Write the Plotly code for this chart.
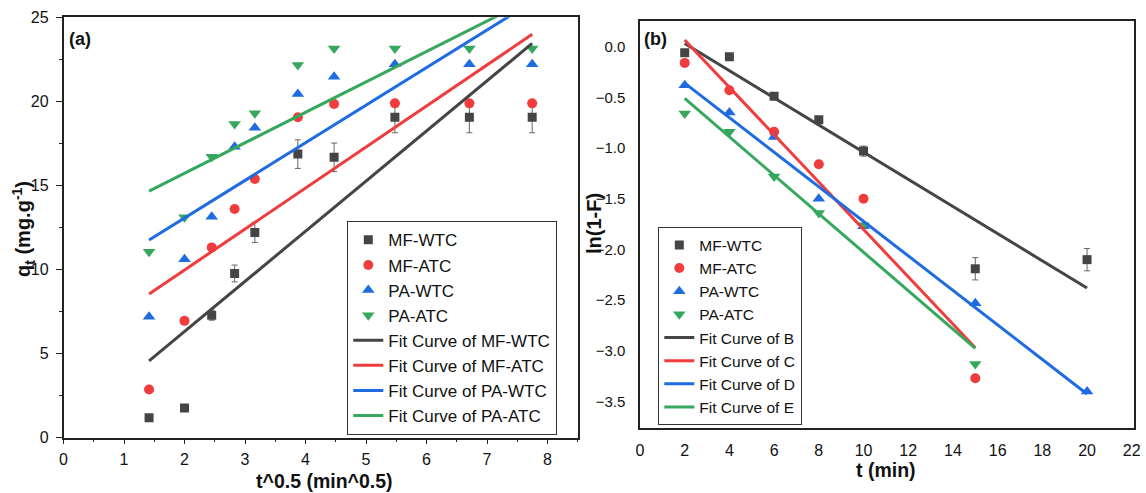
import numpy as np
import plotly.graph_objects as go

# ---------------- data: panel (a) ----------------
t_a = [2, 4, 6, 8, 10, 15, 20, 30, 45, 60]          # min
mf_wtc_a = [1.17, 1.76, 7.28, 9.76, 12.2, 16.86, 16.67, 19.05, 19.05, 19.05]
mf_wtc_a_err = [0.0, 0.0, 0.3, 0.5, 0.6, 0.85, 0.85, 0.92, 0.92, 0.92]
mf_atc_a = [2.86, 6.94, 11.31, 13.59, 15.38, 19.05, 19.84, 19.88, 19.88, 19.88]
pa_wtc_a = [7.18, 10.61, 13.13, 17.3, 18.43, 20.43, 21.46, 22.2, 22.2, 22.2]
pa_atc_a = [11.05, 13.1, 16.7, 18.65, 19.29, 22.16, 23.15, 23.15, 23.15, 23.15]
# fit parameters (slope, intercept) in t^0.5
fit_slope_a = [2.983, 2.441, 2.238, 1.811]
fit_icpt_a = [0.34, 5.08, 8.58, 12.10]

# ---------------- data: panel (b) ----------------
t_b = [2, 4, 6, 8, 10, 15, 20]
mf_wtc_b = [-0.06, -0.10, -0.49, -0.72, -1.03, -2.19, -2.10]
mf_wtc_b_err = [0.03, 0.0, 0.0, 0.0, 0.05, 0.11, 0.11]
mf_atc_b = [-0.16, -0.43, -0.84, -1.16, -1.50, -3.27]
pa_wtc_b = [-0.38, -0.65, -0.89, -1.50, -1.77, -2.53, -3.40]
pa_atc_b = [-0.66, -0.84, -1.28, -1.64, -1.76, -3.13]
fit_slope_b = [-0.1339, -0.2335, -0.1703, -0.1896]
fit_icpt_b = [0.298, 0.533, -0.019, -0.131]
fit_tend_b = [20, 15, 20, 15]

names = ["MF-WTC", "MF-ATC", "PA-WTC", "PA-ATC"]
fit_names_a = ["Fit Curve of MF-WTC", "Fit Curve of MF-ATC", "Fit Curve of PA-WTC", "Fit Curve of PA-ATC"]
fit_names_b = ["Fit Curve of B", "Fit Curve of C", "Fit Curve of D", "Fit Curve of E"]

colors = ["#454545", "#F03C3C", "#1F6BE0", "#36A85E"]
symbols = ["square", "circle", "triangle-up", "triangle-down"]
sizes = [9, 10, 11, 11]
FONT = "Liberation Sans, Arial, sans-serif"
W, H = 1146, 493

fig = go.Figure()

xa = np.sqrt(np.array(t_a, dtype=float))
series_a = [mf_wtc_a, mf_atc_a, pa_wtc_a, pa_atc_a]
for i, ys in enumerate(series_a):
    kw = {}
    if i == 0:
        kw["error_y"] = dict(type="data", array=mf_wtc_a_err, visible=True,
                             color="#666666", thickness=1, width=3)
    fig.add_trace(go.Scatter(x=xa, y=ys, mode="markers", name=names[i],
                             marker=dict(color=colors[i], symbol=symbols[i], size=sizes[i]),
                             xaxis="x", yaxis="y", legend="legend", **kw))
for i in range(4):
    xs = np.array([xa[0], xa[-1]])
    fig.add_trace(go.Scatter(x=xs, y=fit_slope_a[i] * xs + fit_icpt_a[i], mode="lines",
                             name=fit_names_a[i], line=dict(color=colors[i], width=3),
                             xaxis="x", yaxis="y", legend="legend"))

series_b = [mf_wtc_b, mf_atc_b, pa_wtc_b, pa_atc_b]
for i, ys in enumerate(series_b):
    kw = {}
    if i == 0:
        kw["error_y"] = dict(type="data", array=mf_wtc_b_err, visible=True,
                             color="#666666", thickness=1, width=3)
    fig.add_trace(go.Scatter(x=t_b[:len(ys)], y=ys, mode="markers", name=names[i],
                             marker=dict(color=colors[i], symbol=symbols[i], size=sizes[i]),
                             xaxis="x2", yaxis="y2", legend="legend2", **kw))
for i in range(4):
    xs = np.array([t_b[0], fit_tend_b[i]], dtype=float)
    fig.add_trace(go.Scatter(x=xs, y=fit_slope_b[i] * xs + fit_icpt_b[i], mode="lines",
                             name=fit_names_b[i], line=dict(color=colors[i], width=3),
                             xaxis="x2", yaxis="y2", legend="legend2"))

axline = dict(showline=True, linecolor="#222222", linewidth=1.5, mirror=True,
              showgrid=False, zeroline=False, automargin=False)

fig.update_layout(
    width=W, height=H, margin=dict(l=0, r=0, t=0, b=0, pad=0, autoexpand=False),
    paper_bgcolor="white", plot_bgcolor="white",
    font=dict(family=FONT, color="#111111"),
    xaxis=dict(domain=[63.5 / W, 577.8 / W], range=[0, 8.5], dtick=1, tick0=0,
               ticks="outside", ticklen=5, tickwidth=1.3, tickcolor="#222222",
               minor=dict(dtick=0.5, ticks="outside", ticklen=3, tickcolor="#222222"),
               tickfont=dict(size=16, family=FONT), ticklabelstandoff=2, **axline),
    yaxis=dict(domain=[1 - 437.5 / H, 1 - 17.3 / H], range=[0, 25], dtick=5, tick0=0,
               ticks="outside", ticklen=6, tickwidth=1.3, tickcolor="#222222",
               minor=dict(dtick=2.5, ticks="outside", ticklen=3, tickcolor="#222222"),
               tickfont=dict(size=16, family=FONT), ticklabelstandoff=4, **axline),
    xaxis2=dict(domain=[640 / W, 1134 / W], range=[0, 22.1], dtick=2, tick0=0,
                ticks="", tickfont=dict(size=16, family=FONT), ticklabelstandoff=7,
                anchor="y2", **axline),
    yaxis2=dict(domain=[1 - 428 / H, 1 - 21.3 / H], range=[-3.76, 0.25], dtick=0.5, tick0=0,
                ticks="", tickformat=".1f", tickfont=dict(size=15, family=FONT),
                ticklabelstandoff=10, anchor="x2", **axline),
    legend=dict(x=347 / W, y=1 - 221 / H, xanchor="left", yanchor="top",
                bgcolor="white", bordercolor="#333333", borderwidth=1.3,
                font=dict(size=17, family=FONT), tracegroupgap=0),
    legend2=dict(x=658 / W, y=1 - 227 / H, xanchor="left", yanchor="top",
                 bgcolor="white", bordercolor="#333333", borderwidth=1.3,
                 font=dict(size=15.5, family=FONT), tracegroupgap=0),
    showlegend=True,
)

ann = [
    dict(text="<b>q<sub>t</sub> (mg.g<sup>-1</sup>)</b>", x=23 / W, y=1 - 229 / H, textangle=-90,
         font=dict(size=20)),
    dict(text="<b>t^0.5 (min^0.5)</b>", x=324 / W, y=1 - 481 / H, font=dict(size=19.5)),
    dict(text="<b>ln(1-F)</b>", x=594 / W, y=1 - 224 / H, textangle=-90, font=dict(size=20)),
    dict(text="<b>t (min)</b>", x=886 / W, y=1 - 470 / H, font=dict(size=19.5)),
    dict(text="<b>(a)</b>", x=67 / W, y=1 - 39 / H, xanchor="left", font=dict(size=18)),
    dict(text="<b>(b)</b>", x=642 / W, y=1 - 38.5 / H, xanchor="left", font=dict(size=18)),
]
for a in ann:
    a.update(xref="paper", yref="paper", showarrow=False)
    a.setdefault("xanchor", "center")
    a["yanchor"] = "middle"
    a["font"].update(family=FONT, color="#111111")
fig.update_layout(annotations=ann)

fig.write_html("out.html", config={"displayModeBar": False},
               post_script="document.body.style.margin='0';document.body.style.padding='0';")
